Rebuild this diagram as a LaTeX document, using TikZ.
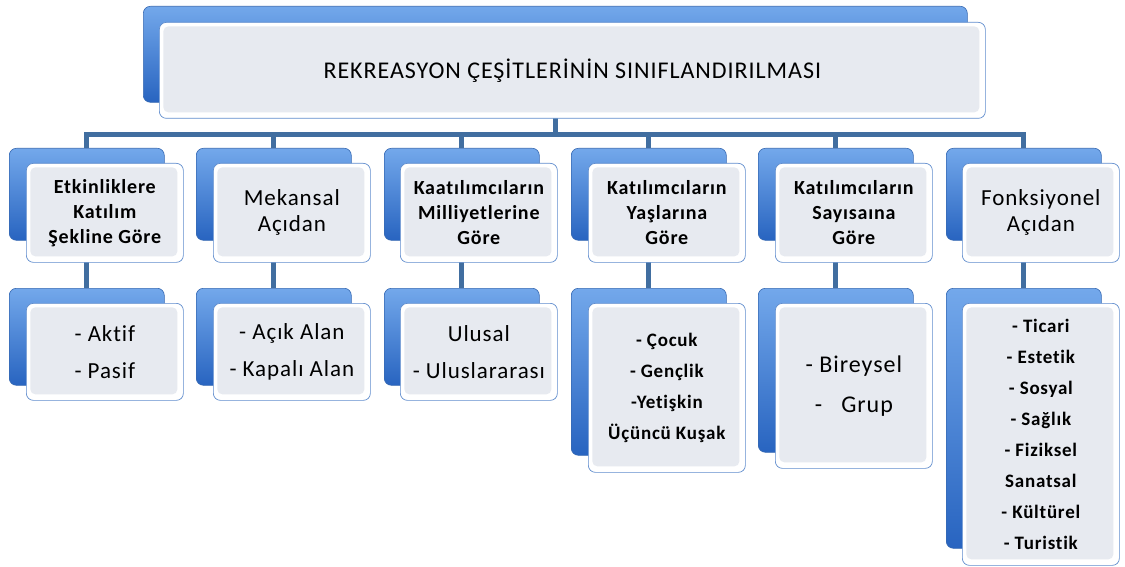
\documentclass[tikz,border=0pt]{standalone}
\usepackage{fontspec}
\setmainfont{Carlito}[LetterSpace=4,Ligatures=NoCommon]
\definecolor{backtop}{RGB}{115,168,235}
\definecolor{backbot}{RGB}{40,100,192}
\definecolor{backedge}{RGB}{55,105,178}
\definecolor{frontedge}{RGB}{95,140,205}
\definecolor{frontgray}{RGB}{231,234,240}
\definecolor{linkblue}{RGB}{65,110,160}

\begin{document}
\begin{tikzpicture}[x=1pt,y=-1pt,
        back/.style={draw=backedge,line width=0.6pt,rounded corners=7pt,
          top color=backtop,bottom color=backbot,anchor=north west,
          inner sep=0pt,minimum width=155pt},
        front/.style={draw=frontedge,line width=0.7pt,fill=white,rounded corners=7pt,
          anchor=north west,inner sep=0pt,minimum width=157pt,align=center,
          path picture={\fill[frontgray,rounded corners=5pt]
            ([shift={(4pt,6pt)}]path picture bounding box.south west) rectangle
            ([shift={(-6pt,-4pt)}]path picture bounding box.north east);}},
        head/.style={font=\fontsize{20}{25}\selectfont\bfseries},
        headthin/.style={font=\fontsize{23}{26}\selectfont},
        item/.style={font=\fontsize{23}{37}\selectfont},
        itemsmall/.style={font=\fontsize{19}{31}\selectfont\bfseries},
        link/.style={draw=linkblue,line width=5pt}]

  \useasboundingbox (0,0) rectangle (1125,567);

  % back boxes
  \node[back,minimum width=824pt,minimum height=96pt] (tb) at (143,6) {};
  \node[back,minimum height=92pt] (b1) at (9,148) {};
  \node[back,minimum height=92pt] (b2) at (196,148) {};
  \node[back,minimum height=92pt] (b3) at (384,148) {};
  \node[back,minimum height=92pt] (b4) at (571,148) {};
  \node[back,minimum height=92pt] (b5) at (758,148) {};
  \node[back,minimum height=92pt] (b6) at (946,148) {};
  \node[back,minimum height=97pt] (c1) at (9,288) {};
  \node[back,minimum height=97pt] (c2) at (196,288) {};
  \node[back,minimum height=97pt] (c3) at (384,288) {};
  \node[back,minimum height=167pt] (c4) at (571,288) {};
  \node[back,minimum height=164pt] (c5) at (758,288) {};
  \node[back,minimum height=260pt] (c6) at (946,288) {};

  % connectors
  \coordinate (bar) at (0,135);
  \draw[link] (tb.south) -- (tb.south |- bar)
        (b1.north) |- (b6.north |- bar) -- (b6.north)
        (b2.north) -- (b2.north |- bar)
        (b3.north) -- (b3.north |- bar)
        (b4.north) -- (b4.north |- bar)
        (b5.north) -- (b5.north |- bar)
        (b1.south) -- (c1.north)
        (b2.south) -- (c2.north)
        (b3.south) -- (c3.north)
        (b4.south) -- (c4.north)
        (b5.south) -- (c5.north)
        (b6.south) -- (c6.north);

  % front boxes
  \node[front,minimum width=826pt,minimum height=96pt,
        font=\fontsize{24}{28}\selectfont] (tf) at (159,22)
        {REKREASYON ÇEŞİTLERİNİN SINIFLANDIRILMASI};

  \node[front,minimum height=99pt,head] (f1) at (26,163) {Etkinliklere\\Katılım\\Şekline Göre};
  \node[front,minimum height=99pt,headthin] (f2) at (213,163) {Mekansal\\Açıdan};
  \node[front,minimum height=99pt,head] (f3) at (400,163) {Kaatılımcıların\\Milliyetlerine\\Göre};
  \node[front,minimum height=99pt,head] (f4) at (588,163) {Katılımcıların\\Yaşlarına\\Göre};
  \node[front,minimum height=99pt,head] (f5) at (775,163) {Katılımcıların\\Sayısaına\\Göre};
  \node[front,minimum height=99pt,headthin] (f6) at (962,163) {Fonksiyonel\\Açıdan};

  \node[front,minimum height=97pt,item] (g1) at (26,303) {- Aktif\\- Pasif};
  \node[front,minimum height=97pt,item] (g2) at (213,303) {- Açık Alan\\- Kapalı Alan};
  \node[front,minimum height=97pt,item] (g3) at (400,303) {Ulusal\\- Uluslararası};
  \node[front,minimum height=169pt,itemsmall] (g4) at (588,303)
        {- Çocuk\\- Gençlik\\-Yetişkin\\Üçüncü Kuşak};
  \node[front,minimum height=165pt,item,font=\fontsize{24}{40}\selectfont] (g5) at (775,303)
        {- Bireysel\\-\ \ \ Grup};
  \node[front,minimum height=262pt,itemsmall] (g6) at (962,303)
        {- Ticari\\- Estetik\\- Sosyal\\- Sağlık\\- Fiziksel\\Sanatsal\\- Kültürel\\- Turistik};

\end{tikzpicture}
\end{document}
